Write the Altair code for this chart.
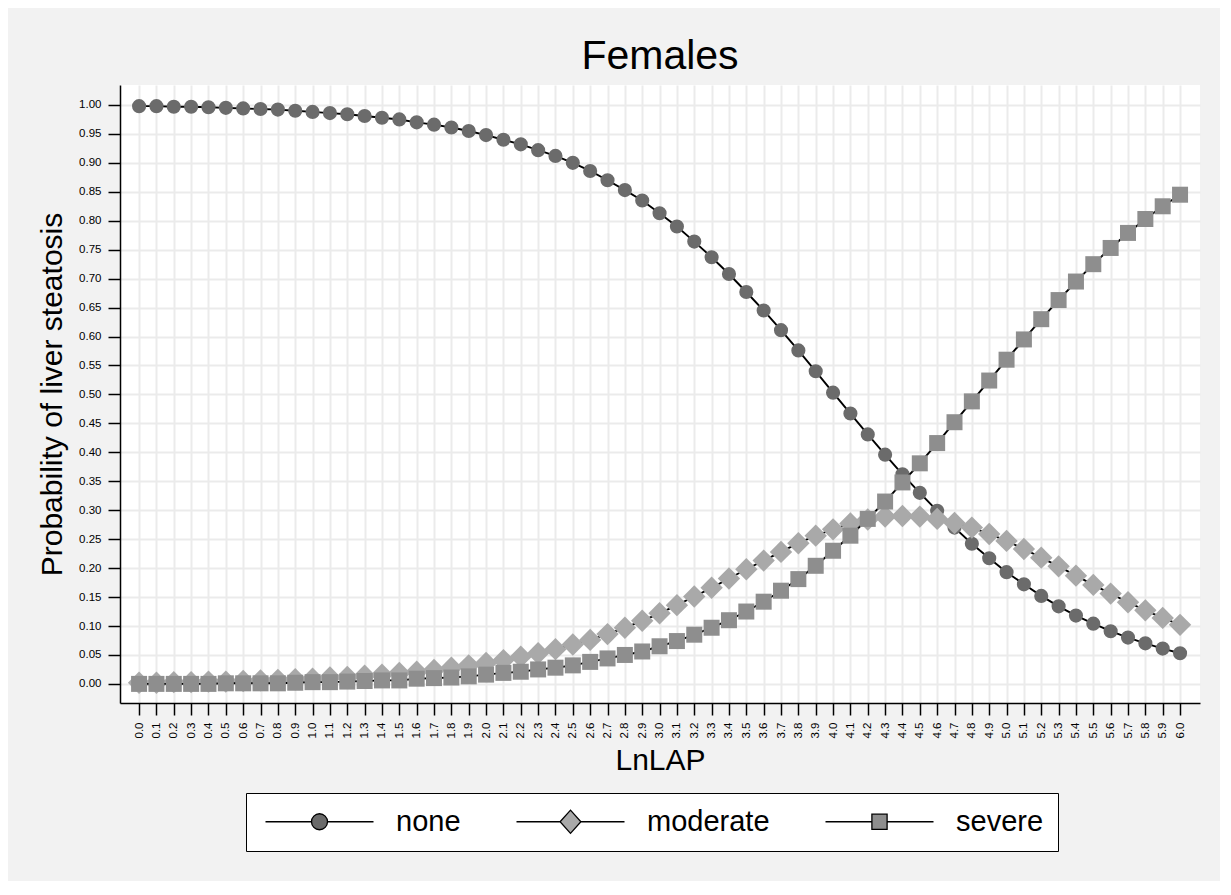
import altair as alt
import pandas as pd

lnlap = [0.0, 0.1, 0.2, 0.3, 0.4, 0.5, 0.6, 0.7, 0.8, 0.9,
         1.0, 1.1, 1.2, 1.3, 1.4, 1.5, 1.6, 1.7, 1.8, 1.9,
         2.0, 2.1, 2.2, 2.3, 2.4, 2.5, 2.6, 2.7, 2.8, 2.9,
         3.0, 3.1, 3.2, 3.3, 3.4, 3.5, 3.6, 3.7, 3.8, 3.9,
         4.0, 4.1, 4.2, 4.3, 4.4, 4.5, 4.6, 4.7, 4.8, 4.9,
         5.0, 5.1, 5.2, 5.3, 5.4, 5.5, 5.6, 5.7, 5.8, 5.9, 6.0]

p_none = [0.998, 0.998, 0.997, 0.997, 0.996, 0.995, 0.994, 0.993, 0.992, 0.990,
          0.988, 0.986, 0.984, 0.981, 0.978, 0.975, 0.970, 0.966, 0.961, 0.955,
          0.948, 0.940, 0.932, 0.922, 0.912, 0.900, 0.886, 0.870, 0.853, 0.835,
          0.813, 0.790, 0.764, 0.737, 0.708, 0.677, 0.645, 0.611, 0.576, 0.540,
          0.503, 0.467, 0.431, 0.396, 0.362, 0.330, 0.299, 0.270, 0.242, 0.217,
          0.193, 0.172, 0.152, 0.134, 0.118, 0.104, 0.091, 0.080, 0.070, 0.061, 0.053]

p_moderate = [0.002, 0.002, 0.003, 0.003, 0.004, 0.004, 0.005, 0.006, 0.007, 0.008,
              0.009, 0.011, 0.012, 0.014, 0.016, 0.019, 0.021, 0.024, 0.028, 0.032,
              0.036, 0.041, 0.047, 0.053, 0.060, 0.068, 0.076, 0.086, 0.097, 0.109,
              0.122, 0.136, 0.151, 0.166, 0.182, 0.198, 0.213, 0.228, 0.243, 0.256,
              0.267, 0.277, 0.284, 0.289, 0.290, 0.289, 0.285, 0.278, 0.270, 0.259,
              0.247, 0.233, 0.218, 0.203, 0.187, 0.171, 0.156, 0.141, 0.127, 0.114, 0.102]

p_severe = [0.000, 0.000, 0.000, 0.000, 0.000, 0.001, 0.001, 0.001, 0.001, 0.002,
            0.003, 0.003, 0.004, 0.005, 0.006, 0.006, 0.009, 0.010, 0.011, 0.013,
            0.016, 0.019, 0.021, 0.025, 0.028, 0.032, 0.038, 0.044, 0.050, 0.056,
            0.065, 0.074, 0.085, 0.097, 0.110, 0.125, 0.142, 0.161, 0.181, 0.204,
            0.230, 0.256, 0.285, 0.315, 0.348, 0.381, 0.416, 0.452, 0.488, 0.524,
            0.560, 0.595, 0.630, 0.663, 0.695, 0.725, 0.753, 0.779, 0.803, 0.825, 0.845]

series_names = ["none", "moderate", "severe"]
y_ticks = [0.00, 0.05, 0.10, 0.15, 0.20, 0.25, 0.30, 0.35, 0.40, 0.45, 0.50,
           0.55, 0.60, 0.65, 0.70, 0.75, 0.80, 0.85, 0.90, 0.95, 1.00]

rows = []
for name, vals in zip(series_names, [p_none, p_moderate, p_severe]):
    for xv, yv in zip(lnlap, vals):
        rows.append({"x": xv, "p": yv, "series": name})
df = pd.DataFrame(rows)

FONT = "Liberation Sans"
marker_colors = ["#6b6b6b", "#a9a9a9", "#8e8e8e"]
marker_shapes = ["circle", "diamond", "square"]
marker_sizes = [200, 500, 256]

legend_paths = [
    "M-6.75,0H-1M1,0H6.75M-1,0A1,1,0,1,1,1,0A1,1,0,1,1,-1,0Z",
    "M-6.75,0H-1.3M1.3,0H6.75M-1.3,0L0,-1.45L1.3,0L0,1.45Z",
    "M-6.75,0H-0.95M0.95,0H6.75M-0.95,-0.95H0.95V0.95H-0.95Z",
]

x_enc = alt.X(
    "x:Q",
    scale=alt.Scale(domain=[-0.11, 6.115], nice=False, zero=False),
    axis=alt.Axis(
        values=lnlap, format=".1f", labelAngle=270, title="LnLAP",
        labelFontSize=11.5, tickSize=12, labelPadding=7, titlePadding=8,
        titleFontSize=30,
    ),
)
y_enc = alt.Y(
    "p:Q",
    scale=alt.Scale(domain=[-0.033, 1.0345], nice=False, zero=False),
    axis=alt.Axis(
        values=y_ticks, format=".2f", title="Probability of liver steatosis",
        labelFontSize=11.5, tickSize=12, labelPadding=7, titlePadding=11,
        titleFontSize=30,
    ),
)

base = alt.Chart(df)
layers = []
for name, col, shp, sz in zip(series_names, marker_colors, marker_shapes, marker_sizes):
    sub = base.transform_filter(alt.datum.series == name)
    layers.append(
        sub.mark_line(color="black", strokeWidth=1.9).encode(x=x_enc, y=y_enc)
    )
    layers.append(
        sub.mark_point(filled=True, opacity=1, strokeWidth=0, color=col,
                       shape=shp, size=sz).encode(x=x_enc, y=y_enc)
    )

leg_props = dict(
    title=None, orient="none", legendX=126, legendY=708, direction="horizontal",
    symbolSize=256, symbolOffset=45, labelOffset=62, columnPadding=50,
    labelFontSize=29, labelFont=FONT, labelColor="black",
    strokeColor="black", fillColor="white", padding=14,
    symbolStrokeWidth=1.3, symbolOpacity=1, labelLimit=400,
)
legend_layer = base.transform_filter("datum.x > 99").mark_point(
    filled=True, stroke="black", strokeWidth=1.3
).encode(
    x=x_enc,
    y=y_enc,
    color=alt.Color("series:N", scale=alt.Scale(domain=series_names, range=marker_colors),
                    legend=alt.Legend(**leg_props)),
    shape=alt.Shape("series:N", scale=alt.Scale(domain=series_names, range=legend_paths),
                    legend=alt.Legend(**leg_props)),
)
layers.append(legend_layer)

chart = alt.layer(*layers).properties(
    width=1080,
    height=618,
    title=alt.TitleParams("Females", fontSize=41, font=FONT, fontWeight="normal",
                          color="black", anchor="middle", baseline="alphabetic",
                          offset=16, dy=41),
    autosize=alt.AutoSizeParams(type="none"),
    padding={"left": 112, "top": 77, "right": 20, "bottom": 178},
    background="#f2f2f2",
).configure_view(
    fill="white", stroke=None
).configure_axis(
    labelFont=FONT, titleFont=FONT, labelColor="black", titleColor="black",
    titleFontWeight="normal", domainColor="black", domainWidth=1.5,
    tickColor="black", tickWidth=1.5, gridColor="#ebebeb", gridWidth=2,
    grid=True,
)

chart.save("out.html", embed_options={"renderer": "svg", "actions": False})
